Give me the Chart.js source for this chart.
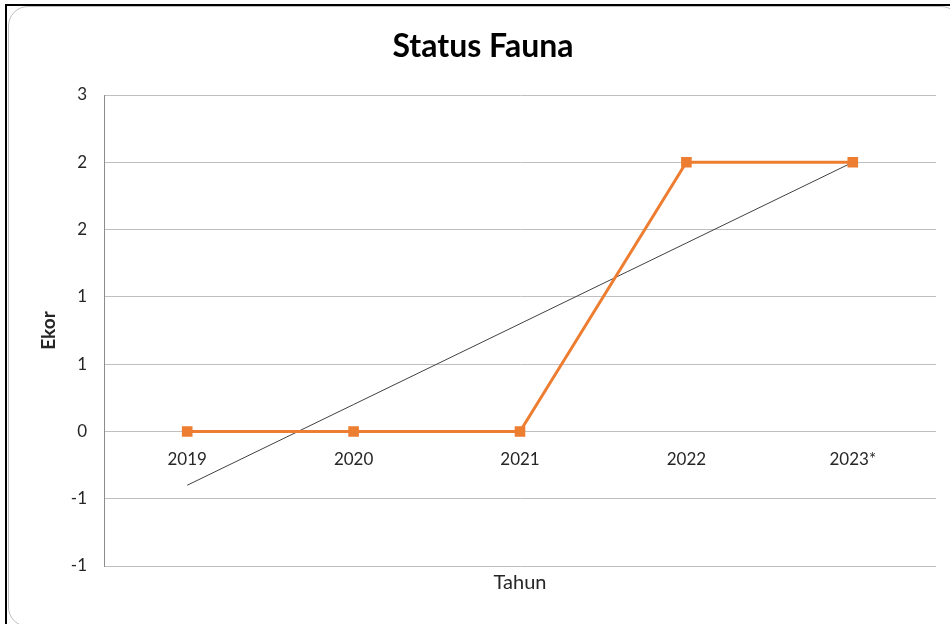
<!DOCTYPE html>
<html>
<head>
<meta charset="utf-8">
<title>Status Fauna</title>
<script src="https://cdn.jsdelivr.net/npm/chart.js@4/dist/chart.umd.min.js"></script>
<style>
  html, body { margin: 0; padding: 0; background: #fff; }
  body { width: 950px; height: 624px; position: relative; overflow: hidden; }
  #edge { position: absolute; left: 5px; top: 4px; width: 960px; height: 640px;
          border-top: 2px solid #000; border-left: 2px solid #000; }
  #frame { position: absolute; left: 8px; top: 6px; width: 951px; height: 619px;
           border: 1px solid #bdbdbd; border-radius: 20px; }
  #chart { position: absolute; left: 0; top: 0; }
</style>
</head>
<body>
<div id="edge"></div>
<div id="frame"></div>
<canvas id="chart" width="950" height="624"></canvas>
<script>
// Data
const years = ["2019", "2020", "2021", "2022", "2023*"];
const faunaCount = [0, 0, 0, 2, 2];
const trendValues = [-0.4, 0.2, 0.8, 1.4, 2.0];
// Excel shows the 0.5 steps rounded to whole numbers
const yTickLabels = ["-1", "-1", "0", "1", "1", "2", "2", "3"];

const fontName = "Lato, 'Open Sans', sans-serif";
const textColor = "#262626";

const ctx = document.getElementById("chart").getContext("2d");

new Chart(ctx, {
    type: "line",
    data: {
        labels: years,
        datasets: [
            {
                label: "Ekor",
                data: faunaCount,
                borderColor: "#ED7D31",
                backgroundColor: "#ED7D31",
                borderWidth: 3,
                pointStyle: "rect",
                pointRadius: 7.5,
                pointBorderWidth: 0,
                tension: 0,
                order: 1,
            },
            {
                label: "Trend",
                data: trendValues,
                borderColor: "#404040",
                borderWidth: 1,
                pointRadius: 0,
                tension: 0,
                order: 2,
            },
        ],
    },
    options: {
        responsive: false,
        animation: false,
        layout: {
            padding: { left: 30, right: 14, top: 0, bottom: 0 }
        },
        plugins: {
            legend: { display: false },
            tooltip: { enabled: false },
            title: {
                display: true,
                text: "Status Fauna",
                color: "#000",
                font: { family: fontName, size: 32, weight: "bold", lineHeight: 1.2 },
                padding: { top: 27, bottom: 29.6 }
            }
        },
        scales: {
            x: {
                type: "category",
                offset: true,
                grid: { display: false },
                border: { display: false },
                ticks: { display: false },
                title: {
                    display: true,
                    text: "Tahun",
                    color: textColor,
                    font: { family: fontName, size: 20 },
                    padding: { top: 0, bottom: 29 }
                },
                afterFit: (scale) => { scale.height = 58; }
            },
            x2: {
                type: "category",
                position: { y: 0 },
                offset: true,
                grid: { display: false, drawTicks: false },
                border: { display: false },
                ticks: {
                    color: textColor,
                    padding: 18,
                    maxRotation: 0,
                    font: { family: fontName, size: 17 }
                }
            },
            y: {
                type: "linear",
                min: -1,
                max: 2.5,
                grid: { color: "#bfbfbf", lineWidth: 1, drawTicks: false },
                border: { display: true, color: "#8c8c8c", width: 1 },
                ticks: {
                    stepSize: 0.5,
                    padding: 17,
                    color: textColor,
                    font: { family: fontName, size: 17 },
                    callback: (value, index) => yTickLabels[index]
                },
                title: {
                    display: true,
                    text: "Ekor",
                    color: textColor,
                    font: { family: fontName, size: 19, weight: "bold" },
                    padding: { top: 7, bottom: 0 }
                },
                afterFit: (scale) => { scale.width = 74; }
            }
        }
    }
});
</script>
</body>
</html>
